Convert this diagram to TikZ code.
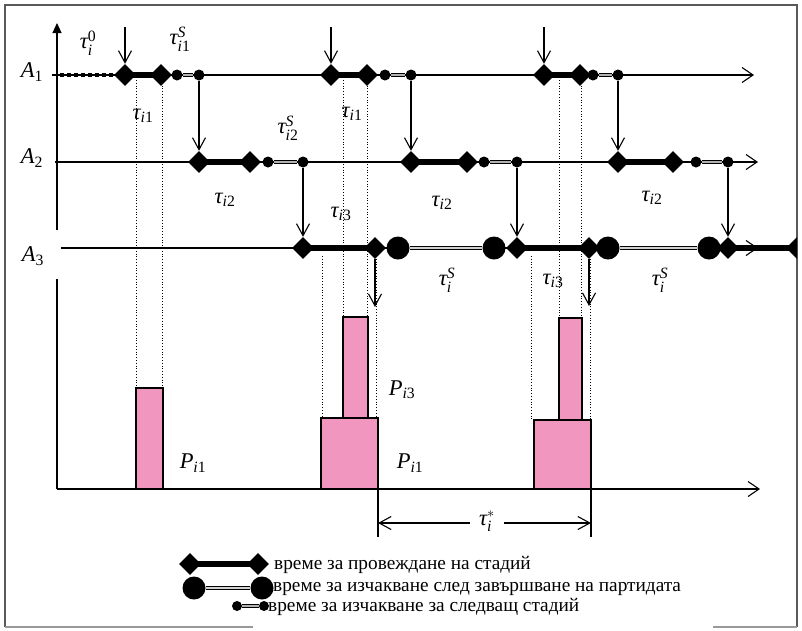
\documentclass[tikz,border=0pt]{standalone}
\usepackage{fontspec}
\usepackage{amsmath}
\setmainfont{Liberation Serif}
\usetikzlibrary{arrows.meta,shapes.geometric,backgrounds}
\definecolor{loadpink}{RGB}{241,150,190}
\newcommand{\mt}{\text{\itshape τ}}
\newcommand{\iix}[1]{\text{\itshape i\upshape #1}}
\newcommand{\ione}{\text{\itshape i}}
\begin{document}
\begin{tikzpicture}[x=1pt,y=-1pt,
  dia/.style={diamond, fill=black, inner sep=0pt, minimum width=22pt, minimum height=22pt},
  bigdot/.style={circle, fill=black, inner sep=0pt, minimum size=23pt},
  smalldot/.style={circle, fill=black, inner sep=0pt, minimum size=11pt},
  stagebar/.style={line width=6pt},
  bigwait/.style={line width=1.2pt, double=gray!35, double distance=2.5pt},
  smallwait/.style={line width=1pt, double=gray!60, double distance=1.5pt},
  axisline/.style={line width=1.1pt, -{Straight Barb[length=11pt,width=15pt]}},
  arr/.style={line width=1.1pt, -{Straight Barb[length=12pt,width=13pt]}},
  guide/.style={dotted, line width=0.8pt},
  loadbar/.style={draw=black, line width=1.2pt, fill=loadpink},
  lbl/.style={font=\fontsize{22.5}{26}\selectfont, inner sep=0pt},
  legtxt/.style={font=\fontsize{19.3}{22}\selectfont, anchor=west, inner sep=0pt},
  frameline/.style={line width=1.5pt, draw=black!65},
  bottomline/.style={line width=1.2pt, draw=black!40}
]
\useasboundingbox (0,0) rectangle (802,630);
% frame
\draw[frameline] (5,627) -- (5,5) -- (797,5) -- (797,627);
\draw[bottomline] (5,627) -- (253,627);
\draw[bottomline] (713,627) -- (797,627);

% axes coordinates
\coordinate (vb) at (57,489);
\coordinate (vg1) at (57,279);
\coordinate (vg2) at (57,230);
\coordinate (vt) at (57,23);
\coordinate (A1s) at (52,75);  \coordinate (A1e) at (754,75);
\coordinate (A2s) at (55,162); \coordinate (A2e) at (758,162);
\coordinate (A3s) at (61,248); \coordinate (A3e) at (758,248);
\coordinate (Be) at (760,489);
\coordinate (dotS) at (60,75); \coordinate (dotE) at (114,75);

\draw[line width=1.1pt] (vb) -- (vg1);
\draw[line width=1.1pt, -{Triangle[length=10pt,width=9pt]}] (vg2) -- (vt);
\draw[axisline] (A1s) -- (A1e);
\draw[axisline] (A2s) -- (A2e);
\draw[axisline] (vb) -- (Be);
\draw[line width=3.5pt, dash pattern=on 4pt off 3pt] (dotS) -- (dotE);

% guide lines and loads
\coordinate (g1a) at (136,80);  \coordinate (g1ab) at (136,388);
\coordinate (g1b) at (162,80);  \coordinate (g1bb) at (162,388);
\coordinate (g2a) at (343,80);  \coordinate (g2ab) at (343,317);
\coordinate (g2b) at (367,80);  \coordinate (g2bb) at (367,317);
\coordinate (g2c) at (322,256); \coordinate (g2cb) at (322,418);
\coordinate (g2d) at (376,256); \coordinate (g2db) at (376,418);
\coordinate (g3a) at (559,80);  \coordinate (g3ab) at (559,318);
\coordinate (g3b) at (581,80);  \coordinate (g3bb) at (581,318);
\coordinate (g3c) at (531,256); \coordinate (g3cb) at (531,421);
\coordinate (g3d) at (590,256); \coordinate (g3db) at (590,421);
\foreach \p in {g1a,g1b,g2a,g2b,g2c,g2d,g3a,g3b,g3c,g3d}{\draw[guide] (\p) -- (\p b);}

\draw[loadbar] (136,388) rectangle (163,489);
\draw[loadbar] (343,317) rectangle (368,418);
\draw[loadbar] (321,418) rectangle (378,489);
\draw[loadbar] (559,318) rectangle (582,420);
\draw[loadbar] (534,420) rectangle (591,489);

% A1 markers
\node[dia] (a11) at (125,75) {};  \node[dia] (a12) at (161,75) {};
\node[smalldot] (a13) at (177,75) {}; \node[smalldot] (a14) at (199,75) {};
\node[dia] (b11) at (331,75) {};  \node[dia] (b12) at (367,75) {};
\node[smalldot] (b13) at (385,75) {}; \node[smalldot] (b14) at (411,75) {};
\node[dia] (c11) at (544,75) {};  \node[dia] (c12) at (580,75) {};
\node[smalldot] (c13) at (593,75) {}; \node[smalldot] (c14) at (618,75) {};
% A2 markers
\node[dia] (a21) at (199,162) {};  \node[dia] (a22) at (250,162) {};
\node[smalldot] (a23) at (268,162) {}; \node[smalldot] (a24) at (303,162) {};
\node[dia] (b21) at (411,162) {};  \node[dia] (b22) at (467,162) {};
\node[smalldot] (b23) at (484,162) {}; \node[smalldot] (b24) at (517,162) {};
\node[dia] (c21) at (618,162) {};  \node[dia] (c22) at (673,162) {};
\node[smalldot] (c23) at (696,162) {}; \node[smalldot] (c24) at (728,162) {};
% A3 markers
\node[dia] (a31) at (303,248) {};  \node[dia] (a32) at (375,248) {};
\node[bigdot] (a33) at (398,248) {}; \node[bigdot] (a34) at (494,248) {};
\node[dia] (b31) at (517,248) {};  \node[dia] (b32) at (589,248) {};
\node[bigdot] (b33) at (608,248) {}; \node[bigdot] (b34) at (709,248) {};
\node[dia] (c31) at (728,248) {};
\begin{scope}
\clip (5,5) rectangle (797,627);
\node[dia] (c32) at (797,248) {};
\begin{scope}[on background layer]
\draw[stagebar] (c31.center) -- (c32.center);
\end{scope}
\end{scope}

\begin{scope}[on background layer]
\draw[line width=1.1pt] (A3s) -- (a31.center);
\foreach \a/\b in {a11/a12,b11/b12,c11/c12,a21/a22,b21/b22,c21/c22,a31/a32,b31/b32}
  {\draw[stagebar] (\a.center) -- (\b.center);}
\foreach \a/\b in {a12/a13,b12/b13,c12/c13,a22/a23,b22/b23,c22/c23,a32/a33,b32/b33,a34/b31,b34/c31}
  {\draw[line width=1.1pt] (\a.center) -- (\b.center);}
\end{scope}
\draw[axisline] (c31.east) -- (A3e);
\foreach \a/\b in {a13/a14,b13/b14,c13/c14,a23/a24,b23/b24,c23/c24}
  {\draw[smallwait] (\a) -- (\b);}
\foreach \a/\b in {a33/a34,b33/b34}
  {\draw[bigwait] (\a) -- (\b);}

% arrows
\coordinate (in1) at (125,27); \coordinate (in2) at (331,27); \coordinate (in3) at (544,27);
\draw[arr] (in1) -- (a11.north);
\draw[arr] (in2) -- (b11.north);
\draw[arr] (in3) -- (c11.north);
\draw[arr] (a14) -- (a21.north);
\draw[arr] (b14) -- (b21.north);
\draw[arr] (c14) -- (c21.north);
\draw[arr] (a24) -- (a31.north);
\draw[arr] (b24) -- (b31.north);
\draw[arr] (c24) -- (c31.north);
\coordinate (out1) at (375,307); \coordinate (out2) at (589,306);
\draw[arr] (a32.south) -- (out1);
\draw[arr] (b32.south) -- (out2);

% labels
\node[lbl] (A1) at (32,72) {$\text{\itshape A}_{\text{1}}$};
\node[lbl] (A2) at (32,158) {$\text{\itshape A}_{\text{2}}$};
\node[lbl] (A3) at (33,256) {$\text{\itshape A}_{\text{3}}$};
\node[lbl] at (88,43) {$\mt^{\text{0}}_{\ione}$};
\node[lbl] at (180,39) {$\mt^{\text{\itshape S}}_{\iix{1}}$};
\node[lbl] at (143,116) {$\mt_{\iix{1}}$};
\node[lbl] at (225,200) {$\mt_{\iix{2}}$};
\node[lbl] at (288,128) {$\mt^{\text{\itshape S}}_{\iix{2}}$};
\node[lbl] at (352,114) {$\mt_{\iix{1}}$};
\node[lbl] at (442,203) {$\mt_{\iix{2}}$};
\node[lbl] at (652,198) {$\mt_{\iix{2}}$};
\node[lbl] at (341,214) {$\mt_{\iix{3}}$};
\node[lbl] at (447,280) {$\mt^{\text{\itshape S}}_{\ione}$};
\node[lbl] at (553,281) {$\mt_{\iix{3}}$};
\node[lbl] at (660,280) {$\mt^{\text{\itshape S}}_{\ione}$};
\node[lbl] at (402,390) {$\text{\itshape P}_{\iix{3}}$};
\node[lbl] at (193,463) {$\text{\itshape P}_{\iix{1}}$};
\node[lbl] at (410,463) {$\text{\itshape P}_{\iix{1}}$};

% tau star
\coordinate (ts1) at (378,489); \coordinate (ts2) at (378,537);
\coordinate (te1) at (591,489); \coordinate (te2) at (591,537);
\draw[line width=1.1pt] (ts1) -- (ts2);
\draw[line width=1.1pt] (te1) -- (te2);
\node[lbl] (tstar) at (487,521) {$\mt^{*}_{\ione}$};
\draw[arr] ([xshift=-9pt]tstar.west |- 0,523) -- (ts1 |- 0,523);
\draw[arr] ([xshift=9pt]tstar.east |- 0,523) -- (te1 |- 0,523);

% legend
\node[dia] (lg1a) at (190,564) {}; \node[dia] (lg1b) at (258,564) {};
\node[bigdot] (lg2a) at (194,588) {}; \node[bigdot] (lg2b) at (262,588) {};
\node[smalldot, minimum size=10pt] (lg3a) at (237,606) {}; \node[smalldot, minimum size=10pt] (lg3b) at (264,606) {};
\begin{scope}[on background layer]
\draw[stagebar] (lg1a.center) -- (lg1b.center);
\end{scope}
\draw[bigwait] (lg2a) -- (lg2b);
\draw[smallwait] (lg3a) -- (lg3b);
\node[legtxt] (t1) at (274,565) {време за провеждане на стадий};
\node[legtxt] (t2) at (273,589) {време за изчакване след завършване на партидата};
\node[legtxt] (t3) at (268,607) {време за изчакване за следващ стадий};
\end{tikzpicture}
\end{document}
